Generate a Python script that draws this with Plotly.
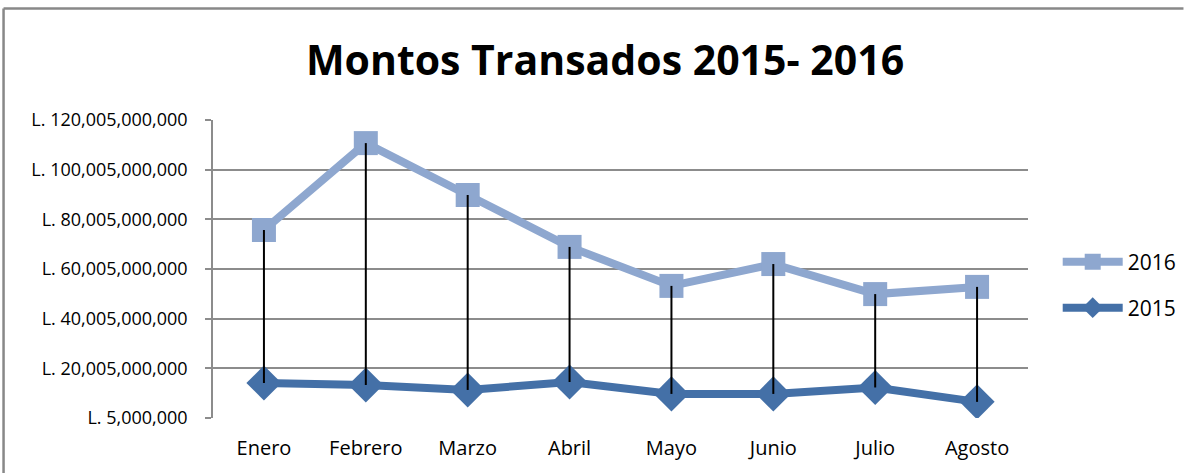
import plotly.graph_objects as go

months = ["Enero", "Febrero", "Marzo", "Abril", "Mayo", "Junio", "Julio", "Agosto"]
values_2016 = [75.7e9, 110.7e9, 89.8e9, 68.9e9, 53.2e9, 62.0e9, 49.9e9, 52.8e9]
values_2015 = [14.1e9, 13.3e9, 11.3e9, 14.5e9, 9.7e9, 9.7e9, 12.3e9, 6.5e9]
tick_values = [5e6 + k * 20e9 for k in range(7)]
tick_labels = ["L. {:,.0f}".format(v) for v in tick_values]

C2016 = "#8EA7CF"
C2015 = "#4470A7"
FONT = "Open Sans"

fig = go.Figure()

fig.add_trace(go.Scatter(
    x=months, y=values_2016, name="2016", mode="lines+markers",
    line=dict(color=C2016, width=8),
    marker=dict(symbol="square", size=24, color=C2016),
    legend="legend",
))
fig.add_trace(go.Scatter(
    x=months, y=values_2015, name="2015", mode="lines+markers",
    line=dict(color=C2015, width=8),
    marker=dict(symbol="diamond", size=27, color=C2015),
    legend="legend2",
))

# high-low lines
hx, hy = [], []
for m, a, b in zip(months, values_2016, values_2015):
    hx += [m, m, None]
    hy += [a, b, None]
fig.add_trace(go.Scatter(
    x=hx, y=hy, mode="lines", line=dict(color="black", width=2),
    showlegend=False, hoverinfo="skip",
))

L, R, T, B = 213, 158, 120, 55
W, H = 1194, 473
pw, ph = W - L - R, H - T - B

def px(x):
    return (x - L) / pw

def py(y):
    return (H - B - y) / ph

fig.update_layout(
    width=W, height=H,
    margin=dict(l=L, r=R, t=T, b=B),
    paper_bgcolor="white", plot_bgcolor="white",
    font=dict(family=FONT, color="black"),
    title=dict(
        text="<b>Montos Transados 2015- 2016</b>",
        x=605 / W, xanchor="center", y=1 - 61 / H, yanchor="middle",
        font=dict(size=41, family=FONT, color="black"),
    ),
    legend=dict(
        x=px(1066), y=py(262), xanchor="left", yanchor="middle",
        font=dict(size=21, family=FONT), bgcolor="rgba(0,0,0,0)",
        itemwidth=60, tracegroupgap=0,
    ),
    legend2=dict(
        x=px(1066), y=py(308), xanchor="left", yanchor="middle",
        font=dict(size=21, family=FONT), bgcolor="rgba(0,0,0,0)",
        itemwidth=60, tracegroupgap=0,
    ),
    xaxis=dict(
        type="category", range=[-0.5, 7.5],
        showgrid=False, showline=False, zeroline=False,
        ticks="", ticklabelstandoff=16,
        tickfont=dict(size=20, family=FONT),
    ),
    yaxis=dict(
        range=[5e6, 120.005e9], tickmode="array",
        tickvals=tick_values, ticktext=tick_labels,
        showgrid=True, gridcolor="#8C8C8C", gridwidth=1.5,
        showline=True, linecolor="#8C8C8C", linewidth=1.5,
        ticks="outside", ticklen=6, tickcolor="#8C8C8C", tickwidth=1.5,
        zeroline=False, ticklabelstandoff=14,
        tickfont=dict(size=18, family=FONT),
    ),
    shapes=[
        dict(type="line", xref="paper", yref="paper",
             x0=px(1.5), x1=px(1193), y0=py(8.5), y1=py(8.5),
             line=dict(color="#888888", width=2.5)),
        dict(type="line", xref="paper", yref="paper",
             x0=px(1.5), x1=px(1.5), y0=py(8.5), y1=py(473),
             line=dict(color="#888888", width=2.5)),
    ],
    showlegend=True,
)

fig.write_html(
    "out.html",
    config={"displayModeBar": False},
    post_script="document.body.style.margin='0';document.body.style.padding='0';document.body.style.overflow='hidden';",
)
